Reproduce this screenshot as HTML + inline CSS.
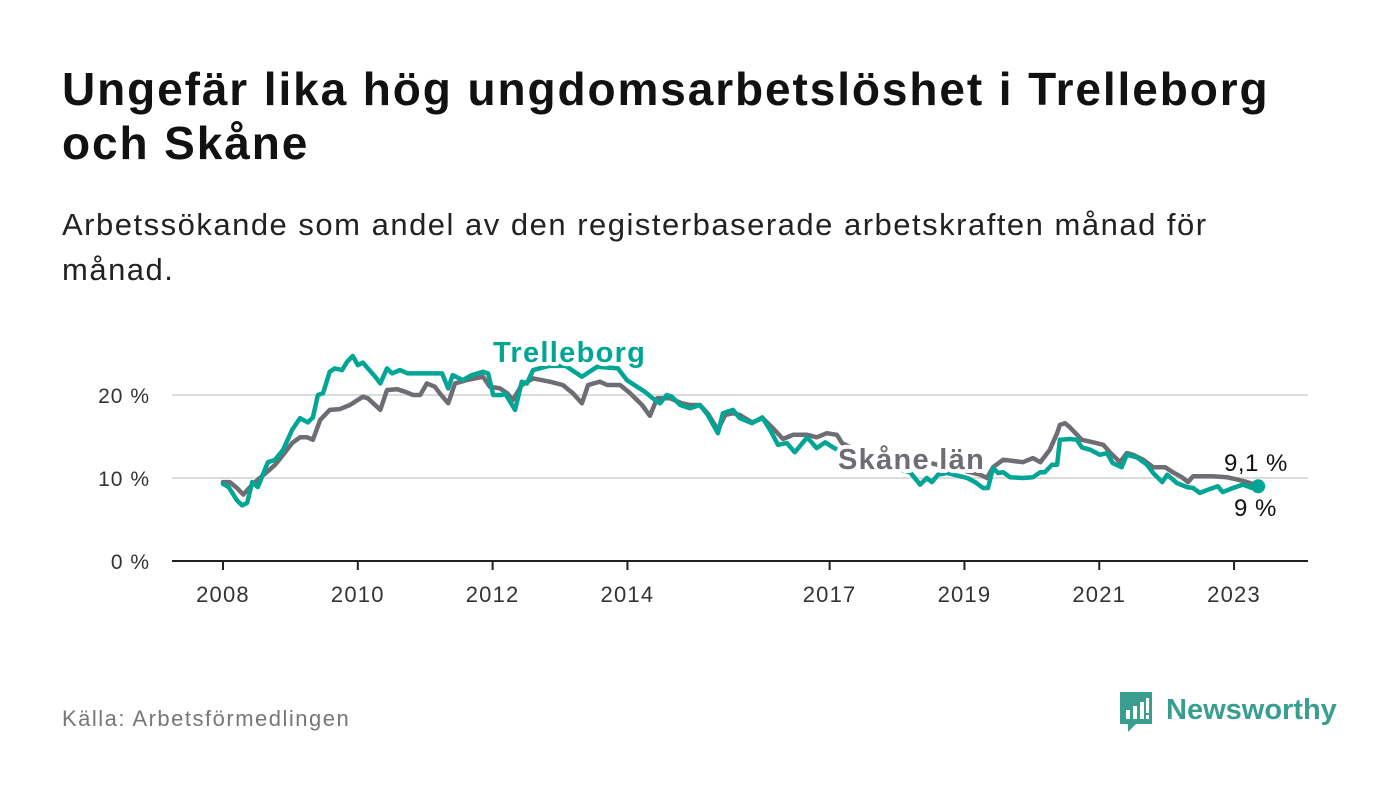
<!DOCTYPE html>
<html><head><meta charset="utf-8">
<style>
body{margin:0;background:#fff;width:1400px;height:794px;overflow:hidden;font-family:"Liberation Sans",sans-serif;}
#title{position:absolute;left:62px;top:62px;font-size:46px;letter-spacing:1.9px;font-weight:bold;color:#111;line-height:54px;width:1330px;white-space:nowrap;}
#sub{position:absolute;left:62px;top:202px;font-size:31px;letter-spacing:1.5px;color:#222;line-height:45px;width:1300px;white-space:nowrap;}
#src{position:absolute;left:62px;top:706px;font-size:22px;letter-spacing:1.5px;color:#777;}
</style></head><body>
<div id="title">Ungefär lika hög ungdomsarbetslöshet i Trelleborg<br>och Skåne</div>
<div id="sub">Arbetssökande som andel av den registerbaserade arbetskraften månad för<br>månad.</div>
<div id="src">Källa: Arbetsförmedlingen</div>
<svg id="chart" width="1400" height="794" style="position:absolute;left:0;top:0"></svg>
<script>
const trelMonths=[0,1,2.5,3.4,4.3,5.2,6.2,8,9.3,10.7,12.3,13.7,15.1,16,16.9,17.8,19,19.9,21.2,22.1,23.1,24,24.9,25.8,27.1,28,29.2,30.1,31.5,32.9,35.1,36.9,38.1,39,40.1,40.9,42.7,44.3,46.3,47.2,48.1,49.7,50.2,52,53.2,54.1,55.2,58,61,63.9,66.6,70.3,71.9,73.7,75.1,76.5,77.8,79,79.9,81.4,83.1,84.9,86.3,88.1,89,90.8,92,94.2,96,97.4,98.8,100.4,101.8,104,105.7,107.2,108.6,113,118,122.3,124.1,125.3,126.2,127.3,128.9,132.5,133.9,135.3,136.2,137.1,138,138.9,140.1,142.4,144.2,145.5,146.3,147.6,148.5,149,150.8,152,152.9,154.4,156.1,157.4,158.4,160,160.9,162.7,164.5,165.6,167.2,168.1,169.8,171.6,172.7,173.9,175.4,177.1,178,179.8,181.6,183.2,184.3];
const trelValues=[9.3,8.9,7.3,6.7,7.0,9.5,8.9,11.9,12.2,13.4,15.8,17.2,16.7,17.3,20.0,20.2,22.8,23.2,23.0,24.0,24.7,23.6,23.9,23.2,22.2,21.4,23.2,22.6,23.0,22.6,22.6,22.6,22.6,22.6,20.8,22.4,21.8,22.4,22.8,22.6,20.0,20.0,20.2,18.2,21.6,21.4,23.0,23.5,23.5,22.2,23.4,23.2,21.8,21.0,20.4,19.6,19.0,20.0,19.8,18.8,18.4,18.8,17.6,15.4,17.8,18.2,17.2,16.6,17.3,15.8,14.0,14.2,13.1,14.9,13.6,14.3,13.7,12.0,11.5,10.7,9.2,10.0,9.5,10.4,10.6,10.0,9.5,8.8,8.8,11.2,10.6,10.7,10.1,10.0,10.1,10.7,10.7,11.6,11.6,14.6,14.7,14.6,13.7,13.4,12.8,13.0,11.8,11.3,12.8,12.5,11.6,10.6,9.5,10.4,9.4,8.9,8.8,8.2,8.6,9.0,8.3,8.8,9.2,8.8,9.0];
const skaneMonths=[0,1.2,2.5,3.6,4.8,6.2,7.8,9.3,10.7,12.3,13.7,15,16,17.3,19,20.8,22.6,24.9,25.8,28,29.2,31,32.4,33.8,35.1,36.3,37.7,38.6,40.1,41.3,43.4,46.3,47.5,49.3,50.6,51.6,53.2,55.2,58.2,60.5,62.3,63.9,65,67.1,68.4,70.7,72.5,74.6,76,77.3,79.6,81.7,83.1,84.9,86.3,88.1,89.4,90.8,92,94.2,96.1,97.9,99.7,101.5,104,105.7,107.5,109.3,110.2,115.2,118.7,125.9,131.2,134.8,136,137.1,138.9,142.4,144.2,145.5,147.2,148.5,149,149.9,150.8,152.9,154.9,156.7,157.9,159.7,160.9,162,163.8,165.6,167.7,169.1,170.7,171.8,172.7,176.2,178.7,180.7,182.3,184.3];
const skaneValues=[9.5,9.5,8.8,8.0,8.9,9.8,10.7,11.6,12.8,14.2,14.9,14.9,14.6,17.0,18.2,18.3,18.8,19.8,19.6,18.2,20.6,20.7,20.4,20.0,20.0,21.4,21.0,20.2,19.0,21.4,21.8,22.2,21.0,20.8,20.2,19.4,21.2,22.0,21.6,21.2,20.2,19.0,21.2,21.6,21.2,21.2,20.2,18.8,17.5,19.6,19.6,19.0,18.8,18.8,17.8,15.8,17.6,17.8,17.6,16.7,17.2,16.0,14.7,15.2,15.2,14.9,15.4,15.2,14.2,12.6,12.6,11.8,11.0,10.4,10.0,11.3,12.2,11.9,12.4,11.9,13.4,15.4,16.4,16.6,16.1,14.6,14.3,14.0,13.1,11.9,13.0,12.8,12.2,11.3,11.3,10.7,10.1,9.5,10.2,10.2,10.1,9.8,9.5,9.1];
const yTicks=[0,10,20];
const yTickLabels=["0 %","10 %","20 %"];
const xTickYears=[2008,2010,2012,2014,2017,2019,2021,2023];

const NS="http://www.w3.org/2000/svg";
const svg=document.getElementById('chart');
const X0=223,PXM=5.617,Y0=561,PXV=8.3;
const xs=m=>X0+m*PXM;
const ys=v=>Y0-v*PXV;
const xYear=y=>xs((y-2008)*12);
function mk(tag,attrs){const e=document.createElementNS(NS,tag);for(const k in attrs)e.setAttribute(k,attrs[k]);svg.appendChild(e);return e;}

yTicks.forEach((t,i)=>{
  if(t>0){const g=mk('line',{x1:172,x2:1308,y1:ys(t),y2:ys(t),stroke:'#dcdcdc','stroke-width':2});
  
  }
  const l=mk('text',{x:150,y:ys(t)+8,'text-anchor':'end','font-size':21,'letter-spacing':1,fill:'#333','font-family':'Liberation Sans, sans-serif'});
  l.textContent=yTickLabels[i];
  
  
});
const ax=mk('line',{x1:172,x2:1308,y1:Y0,y2:Y0,stroke:'#222','stroke-width':2});


xTickYears.forEach(yr=>{
  const x=xYear(yr);
  const tk=mk('line',{x1:x,x2:x,y1:Y0,y2:Y0+9,stroke:'#222','stroke-width':2});
  
  
  const l=mk('text',{x:x,y:Y0+41,'text-anchor':'middle','font-size':22,'letter-spacing':1.2,fill:'#333','font-family':'Liberation Sans, sans-serif'});
  l.textContent=yr;
  
  
});
function line(ms,vs,color,name){
  const d=ms.map((m,i)=>(i?'L':'M')+xs(m).toFixed(1)+' '+ys(vs[i]).toFixed(1)).join(' ');
  const p=mk('path',{d:d,fill:'none',stroke:color,'stroke-width':4.5,'stroke-linejoin':'round','stroke-linecap':'round'});
  
  
}
line(skaneMonths,skaneValues,'#6e6d73','skane-line');
line(trelMonths,trelValues,'#00a595','trelleborg-line');
const lt=trelMonths.length-1;
const dot=mk('circle',{cx:xs(trelMonths[lt]),cy:ys(trelValues[lt]),r:7,fill:'#00a595'});


function label(txt,x,y,color,bold,size,ls,name){
  const t=mk('text',{x:x,y:y,'font-size':size,'letter-spacing':ls,'font-weight':bold?'bold':'normal',fill:color,stroke:'#fff','stroke-width':bold?8:5,'paint-order':'stroke','stroke-linejoin':'round','font-family':'Liberation Sans, sans-serif'});
  t.textContent=txt;
  
  
}
label('Trelleborg',493,362,'#00a595',true,29,1.3,'trelleborg-label');
label('Skåne län',838,469,'#6e6d73',true,29,1.3,'skane-label');
label('9,1 %',1224,471,'#111',false,24,0.5,'skane-end-value');
label('9 %',1234,516,'#111',false,24,0.5,'trelleborg-end-value');
</script>
<svg width="220" height="50" style="position:absolute;left:1118px;top:690px">
<path d="M2 2 H34 V34 H18 L10 42 V34 H2 Z" fill="#3a9e8f"/>
<rect x="8" y="20" width="4" height="9" fill="#fff"/><rect x="15" y="16" width="4" height="13" fill="#fff"/><rect x="22" y="12" width="4" height="17" fill="#fff"/><rect x="28" y="8" width="3" height="15" fill="#fff"/><rect x="28" y="25" width="3" height="4" fill="#fff"/>
<text x="48" y="29" font-size="29" font-weight="bold" fill="#3a9e8f" font-family="Liberation Sans, sans-serif">Newsworthy</text>
</svg>
</body></html>
